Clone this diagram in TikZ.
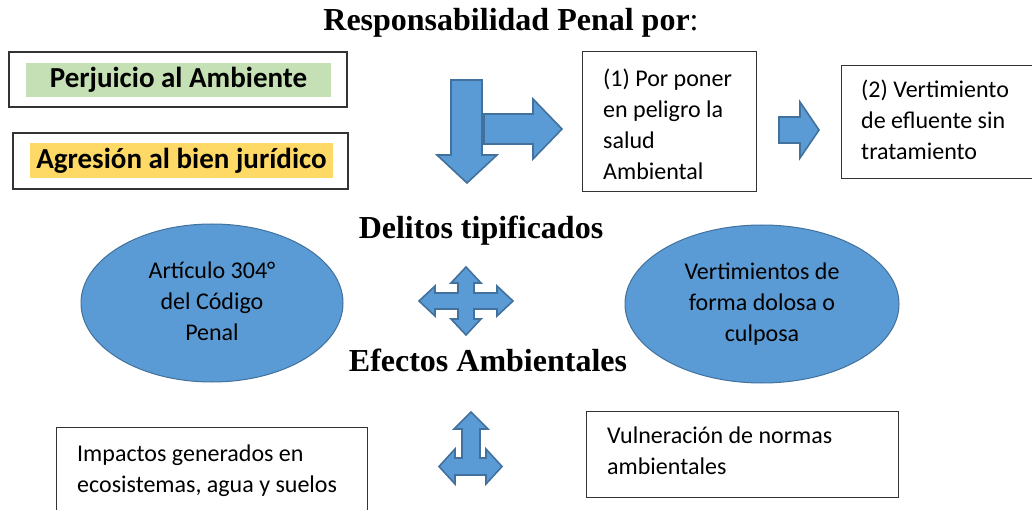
\documentclass[tikz,border=0pt]{standalone}
\usepackage{fontspec}
\setmainfont{Carlito}
\newfontfamily\tnr{Liberation Serif}
\usetikzlibrary{shapes.geometric}
\definecolor{abl}{HTML}{5B9BD5}
\definecolor{abd}{HTML}{41719C}
\definecolor{hgreen}{HTML}{C5E0B4}
\definecolor{hyellow}{HTML}{FFD966}
\begin{document}
\begin{tikzpicture}[x=1pt,y=-1pt,
  box/.style={draw=black!80, line width=1.2pt, fill=white, inner sep=0pt},
  txt/.style={font=\fontsize{24}{31}\selectfont, align=left, inner sep=0pt, anchor=north west},
  hl/.style={font=\bfseries\fontsize{29}{31}\selectfont, inner sep=0pt},
  blk/.style={fill=abl, draw=abd, line width=1.6pt, line join=miter},
  ell/.style={ellipse, fill=abl, draw=abd, line width=1pt, inner sep=0pt, align=center, font=\fontsize{24}{31}\selectfont},
  ttl/.style={font=\tnr\bfseries\fontsize{32}{34}\selectfont, inner sep=0pt, anchor=base}]
\clip (0,0) rectangle (1032,510);
\fill[white] (0,0) rectangle (1032,510);

% titles
\node[ttl] (title) at (511,31) {Responsabilidad Penal por{\mdseries:}};
\node[ttl] (delitos) at (481,239) {Delitos tipificados};
\node[ttl] (efectos) at (488,371) {Efectos Ambientales};

% left boxes
\node[box, minimum width=338, minimum height=55] (b1) at (178,79.5) {};
\node[hl, fill=hgreen, minimum width=305, minimum height=34] (h1) at (178.5,80) {Perjuicio al Ambiente};
\node[box, minimum width=335, minimum height=56] (b2) at (180.5,161) {};
\node[hl, fill=hyellow, minimum width=303, minimum height=35] (h2) at (181.5,160.5) {Agresión al bien jurídico};

% block arrows (top)
\draw[blk] (451,80) -- (482,80) -- (482,155) -- (497,155) -- (467,183) -- (437,155) -- (451,155) -- cycle;
\draw[blk] (484,114) -- (533,114) -- (533,99) -- (562,129) -- (533,159) -- (533,144) -- (484,144) -- cycle;
\draw[blk] (779,117) -- (800,117) -- (800,102) -- (819,130) -- (800,158) -- (800,143) -- (779,143) -- cycle;

% top right boxes
\node[box, minimum width=174, minimum height=140, anchor=north west] (p1) at (582,51) {};
\node[txt] (p1t) at (603,64.3) {\strut(1) Por poner\\en peligro la\\salud\\Ambiental};
\node[box, minimum width=200, minimum height=113, anchor=north west] (p2) at (841,65) {};
\node[txt] (p2t) at (861,75.5) {\strut(2) Vertimiento\\de efluente sin\\tratamiento};

% ellipses
\node[ell, minimum width=262, minimum height=158] (e1) at (212,303) {\strut Artículo 304°\\del Código\\Penal\strut};
\node[ell, minimum width=274, minimum height=158] (e2) at (762,304) {\strut Vertimientos de\\forma dolosa o\\culposa\strut};

% quad arrow
\draw[blk] (466,267) -- (481,283) -- (474,283) -- (474,293) -- (497,293) -- (497,286) -- (513,301)
  -- (497,316) -- (497,309) -- (474,309) -- (474,319) -- (481,319) -- (466,335) -- (451,319)
  -- (458,319) -- (458,309) -- (435,309) -- (435,316) -- (419,301) -- (435,286) -- (435,293)
  -- (458,293) -- (458,283) -- (451,283) -- cycle;

% left-right-up arrow
\draw[blk] (471,412) -- (488,429) -- (480,429) -- (480,458) -- (486,458) -- (486,449) -- (502,466.5)
  -- (486,484) -- (486,475) -- (455,475) -- (455,484) -- (439,466.5) -- (455,449) -- (455,458)
  -- (462,458) -- (462,429) -- (454,429) -- cycle;

% bottom boxes
\node[box, minimum width=311, minimum height=95, anchor=north west] (q1) at (56,427) {};
\node[txt] (q1t) at (77,440) {\strut Impactos generados en\\ecosistemas, agua y suelos};
\node[box, minimum width=312, minimum height=86, anchor=north west] (q2) at (586,411) {};
\node[txt] (q2t) at (607,421.3) {\strut Vulneración de normas\\ambientales};
\end{tikzpicture}
\end{document}
